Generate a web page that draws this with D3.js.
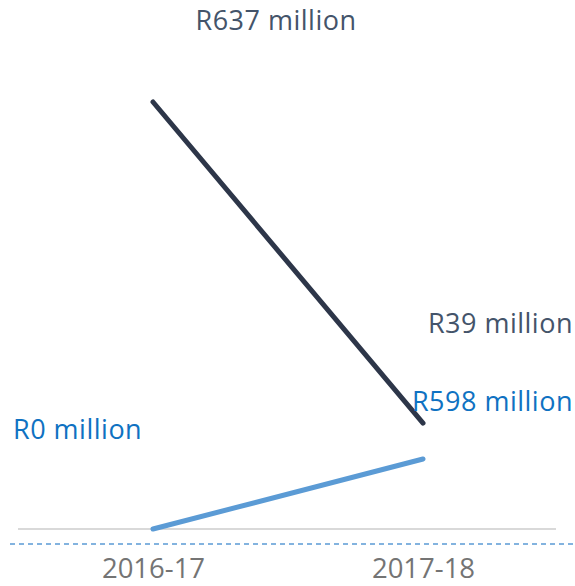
<!DOCTYPE html>
<html>
<head>
<meta charset="utf-8">
<script src="https://cdn.jsdelivr.net/npm/d3@7"></script>
<style>
  html, body { margin: 0; padding: 0; background: #ffffff; }
  svg { display: block; }
</style>
</head>
<body>
<svg id="chart" width="575" height="586"></svg>
<script>
// Financial years on the x axis
const years = ["2016-17", "2017-18"];

// Dark series (R million)
const darkValues = [637, 39];
// Blue series (R million)
const blueValues = [0, 598];

// Value labels for each series
const darkLabels = ["R637 million", "R39 million"];
const blueLabels = ["R0 million", "R598 million"];

const W = 575, H = 586;
const svg = d3.select("#chart");

const x = d3.scalePoint().domain(years).range([18, 558]).padding(0.5);

// Each series has its own vertical scale
const yDark = d3.scaleLinear().domain([0, 637]).range([444, 102]);
const yBlue = d3.scaleLinear().domain([0, 598]).range([529, 459]);

const baseY = yBlue(0);

// Light baseline
svg.append("line")
  .attr("x1", 18).attr("x2", 556)
  .attr("y1", baseY).attr("y2", baseY)
  .attr("stroke", "#d9d9d9")
  .attr("stroke-width", 2);

// Dashed separator above the year labels
svg.append("line")
  .attr("x1", 10).attr("x2", W)
  .attr("y1", baseY + 15).attr("y2", baseY + 15)
  .attr("stroke", "#5b9bd5")
  .attr("stroke-width", 1.3)
  .attr("stroke-dasharray", "5,4");

// Year axis labels (text baseline placed directly)
const xAxis = d3.axisBottom(x).tickSize(0).tickPadding(0);
const gx = svg.append("g")
  .attr("transform", `translate(0,${baseY + 49})`)
  .call(xAxis);
gx.select(".domain").remove();
gx.selectAll("text")
  .attr("y", 0)
  .attr("dy", 0)
  .attr("fill", "#747474")
  .style("font-family", "'Open Sans', sans-serif")
  .style("font-size", "27.5px");

const line = (yScale) => d3.line()
  .x((d, i) => x(years[i]))
  .y(d => yScale(d));

// Blue line
svg.append("path")
  .datum(blueValues)
  .attr("d", line(yBlue))
  .attr("fill", "none")
  .attr("stroke", "#5b9bd5")
  .attr("stroke-width", 5)
  .attr("stroke-linecap", "round");

// Dark line
svg.append("path")
  .datum(darkValues)
  .attr("d", line(yDark))
  .attr("fill", "none")
  .attr("stroke", "#2d3649")
  .attr("stroke-width", 5)
  .attr("stroke-linecap", "round");

const labelFont = "'Open Sans', sans-serif";
const labelSize = "27px";

function addLabel(text, px, py, anchor, color) {
  svg.append("text")
    .attr("x", px).attr("y", py)
    .attr("text-anchor", anchor)
    .attr("fill", color)
    .style("font-family", labelFont)
    .style("font-size", labelSize)
    .style("letter-spacing", "0.5px")
    .text(text);
}

const darkColor = "#44546a";
const blueColor = "#0f72c2";

// Dark series labels
addLabel(darkLabels[0], x(years[0]) + 123, yDark(darkValues[0]) - 72, "middle", darkColor);
addLabel(darkLabels[1], 573, yDark(darkValues[1]) - 90, "end", darkColor);

// Blue series labels
addLabel(blueLabels[0], 13, yBlue(blueValues[0]) - 90, "start", blueColor);
addLabel(blueLabels[1], 573, yBlue(blueValues[1]) - 48, "end", blueColor);
</script>
</body>
</html>
